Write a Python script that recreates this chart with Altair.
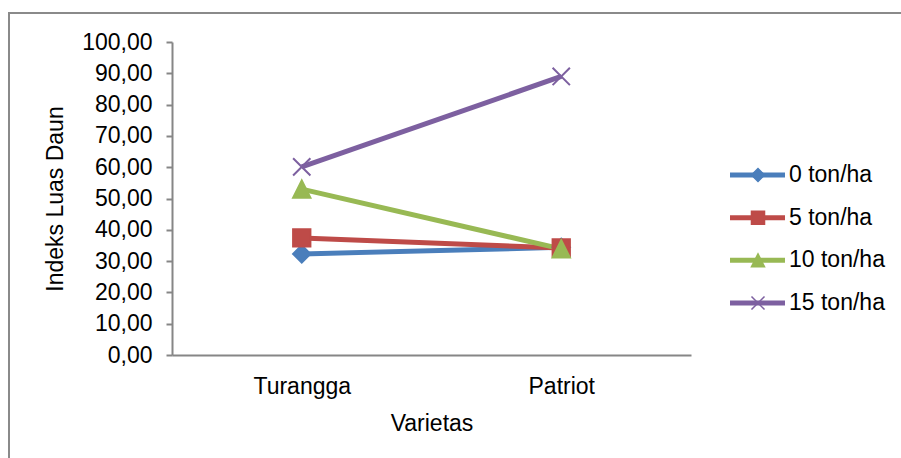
import altair as alt
import pandas as pd

# Leaf area index per variety for each dose
varieties = ["Turangga", "Patriot"]
series = ["0 ton/ha", "5 ton/ha", "10 ton/ha", "15 ton/ha"]
values_0 = [32.3, 34.4]
values_5 = [37.4, 34.2]
values_10 = [53.0, 33.9]
values_15 = [60.1, 89.0]
y_ticks = [0, 10, 20, 30, 40, 50, 60, 70, 80, 90, 100]

colors = ["#4A7EBB", "#BE4B48", "#98B954", "#7D60A0"]
shapes = ["diamond", "square", "M0,-1L1,1L-1,1Z", "M-1,-1L1,1M-1,1L1,-1"]

rows = []
for name, vals in zip(series, [values_0, values_5, values_10, values_15]):
    for v, val in zip(varieties, vals):
        rows.append({"Varietas": v, "Dosis": name, "Nilai": val})
df = pd.DataFrame(rows)
legend_df = pd.DataFrame({"Dosis": series})

FONT = "Liberation Sans"
FS = 23
AXIS_GRAY = "#868686"
W, H = 519, 313

color_scale = alt.Scale(domain=series, range=colors)
shape_scale = alt.Scale(domain=series, range=shapes)

x_enc = alt.X(
    "Varietas:N",
    sort=varieties,
    scale=alt.Scale(type="point", padding=0.5),
    axis=alt.Axis(
        title="Varietas", labelAngle=0, ticks=False, tickSize=0,
        labelPadding=20, titlePadding=14, domainColor=AXIS_GRAY, domainWidth=2,
        labelFontSize=FS, titleFontSize=FS, labelFont=FONT, titleFont=FONT,
        titleFontWeight="normal", labelColor="black", titleColor="black",
    ),
)
y_enc = alt.Y(
    "Nilai:Q",
    scale=alt.Scale(domain=[0, 100], nice=False),
    axis=alt.Axis(
        title="Indeks Luas Daun", values=y_ticks, grid=False, orient="left",
        labelExpr="replace(format(datum.value, '.2f'), '.', ',')",
        tickSize=6, tickColor=AXIS_GRAY, tickWidth=2, domainColor=AXIS_GRAY,
        domainWidth=2, labelPadding=14, titlePadding=14,
        labelFontSize=FS, titleFontSize=FS, labelFont=FONT, titleFont=FONT,
        titleFontWeight="normal", labelColor="black", titleColor="black",
    ),
)

lines = alt.Chart(df).mark_line(strokeWidth=5).encode(
    x=x_enc, y=y_enc,
    color=alt.Color("Dosis:N", scale=color_scale, legend=None),
    detail="Dosis:N",
)
points = alt.Chart(df).transform_calculate(
    idx="indexof(['0 ton/ha','5 ton/ha','10 ton/ha','15 ton/ha'], datum.Dosis)"
).mark_point(filled=True, size=300, strokeWidth=2, opacity=1).encode(
    x=x_enc, y=y_enc,
    color=alt.Color("Dosis:N", scale=color_scale, legend=None),
    stroke=alt.Stroke("Dosis:N", scale=color_scale, legend=None),
    shape=alt.Shape("Dosis:N", scale=shape_scale, legend=None),
    order=alt.Order("idx:Q"),
)
plot = alt.layer(lines, points)

# outer frame around the whole figure
frame = alt.Chart(legend_df.head(1)).mark_rect(
    fill=None, stroke="#8A8A8A", strokeWidth=2, clip=False
).encode(
    x=alt.value(-163), x2=alt.value(760), y=alt.value(-29), y2=alt.value(440)
)

# legend: line sample + marker + label for each dose, to the right of the plot
LX = 730 - 172
leg_y = alt.Y(
    "Dosis:N", sort=series,
    scale=alt.Scale(type="point", domain=series, range=[133, 261], padding=0),
    axis=None,
)
leg_line = alt.Chart(legend_df).mark_rule(strokeWidth=5).encode(
    x=alt.value(LX), x2=alt.value(LX + 55), y=leg_y,
    color=alt.Color("Dosis:N", scale=color_scale, legend=None),
)
leg_pts = alt.Chart(legend_df).mark_point(filled=True, size=170, strokeWidth=1.5, opacity=1).encode(
    x=alt.value(LX + 28), y=leg_y,
    color=alt.Color("Dosis:N", scale=color_scale, legend=None),
    stroke=alt.Stroke("Dosis:N", scale=color_scale, legend=None),
    shape=alt.Shape("Dosis:N", scale=shape_scale, legend=None),
)
leg_txt = alt.Chart(legend_df).mark_text(
    align="left", baseline="middle", fontSize=FS, font=FONT, color="black"
).encode(x=alt.value(LX + 59), y=leg_y, text="Dosis:N")
legend = alt.layer(leg_line, leg_pts, leg_txt)

chart = alt.layer(frame, plot, legend).resolve_scale(
    y="independent"
).properties(
    width=W, height=H,
    padding={"left": 172, "top": 42, "right": 210, "bottom": 103},
    autosize=alt.AutoSizeParams(type="none"),
    background="white",
).configure_view(stroke=None)

chart.save("out.html", embed_options={"renderer": "svg", "actions": False})
